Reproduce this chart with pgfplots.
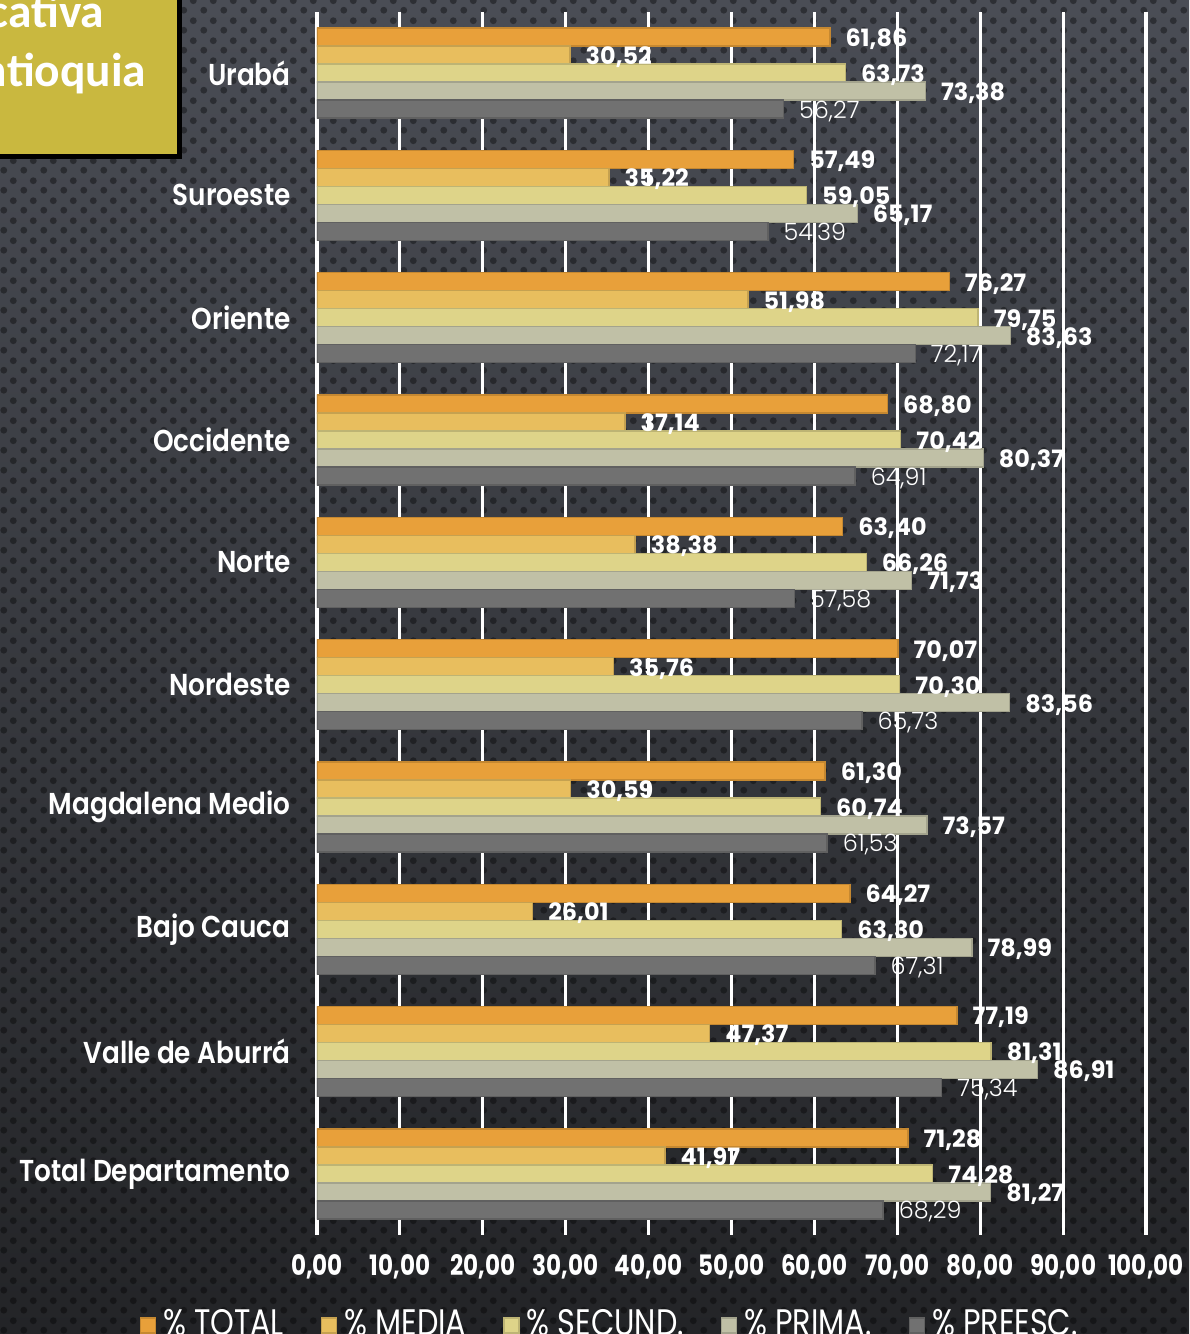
\documentclass[border=0pt]{standalone}
\usepackage{pgfplots}
\pgfplotsset{compat=1.18}
\usetikzlibrary{patterns.meta}
\usepackage{fontspec}
\setmainfont{Poppins}
\newfontfamily\condfont[FakeStretch=0.82]{Poppins}
\newfontfamily\semifont[FakeStretch=0.87]{Poppins SemiBold}
\newfontfamily\lightfont{Poppins Light}
\newfontfamily\boxfont{Carlito}

\definecolor{ctotal}{HTML}{E8A03A}
\definecolor{cmedia}{HTML}{E8BE5E}
\definecolor{csecund}{HTML}{DED489}
\definecolor{cprima}{HTML}{C0C0A6}
\definecolor{cpreesc}{HTML}{717171}
\definecolor{boxcol}{HTML}{C9B83F}
\definecolor{bgtop}{HTML}{4A4D55}
\definecolor{bgbot}{HTML}{232427}

\tikzdeclarepattern{name=bgdots, type=uncolored,
  bounding box={(0,0) and (2mm,2mm)}, tile size={(2mm,2mm)},
  code={\fill (0.5mm,0.5mm) circle (0.36mm); \fill (1.5mm,1.5mm) circle (0.36mm);}}

\pgfkeys{/pgf/number format/numfmt/.style={/pgf/number format/fixed,
    /pgf/number format/fixed zerofill, /pgf/number format/precision=2,
    /pgf/number format/use comma, /pgf/number format/assume math mode=true}}

\begin{document}
\begin{tikzpicture}[x=1mm,y=1mm]
\useasboundingbox (-31.7,-9.9) rectangle (87.2,123.5);
\clip (-31.7,-9.9) rectangle (87.2,123.5);
\shade[top color=bgtop, bottom color=bgbot] (-31.7,-9.9) rectangle (87.2,123.5);
\fill[pattern=bgdots, pattern color=black, opacity=0.38] (-31.7,-9.9) rectangle (87.2,123.5);
% title box (cut at the left edge)
\fill[black] (-31.7,107.6) rectangle (-13.5,123.5);
\fill[boxcol] (-31.7,108.1) rectangle (-14.0,123.5);
\node[anchor=base east, inner sep=0, text=white, font=\boxfont\bfseries\fontsize{13.5}{15}\selectfont] at (-21.2,120.7) {cativa};
\node[anchor=base east, inner sep=0, text=white, font=\boxfont\bfseries\fontsize{13.5}{15}\selectfont] at (-17.0,114.8) {ntioquia};

\begin{axis}[
    at={(0,0)}, anchor=south west,
    xbar, bar width=1.8mm,
    scale only axis, width=82.9mm, height=122.3mm,
    xmin=0, xmax=100, ymin=-0.5, ymax=9.5,
    xtick={0,10,...,100}, ytick={0,...,9},
    yticklabels={Total Departamento, Valle de Aburrá, Bajo Cauca, Magdalena Medio, Nordeste, Norte, Occidente, Oriente, Suroeste, Urabá},
    axis line style={draw=none},
    major tick length=0pt,
    xmajorgrids, grid style={white, line width=0.9pt},
    xticklabel style={/pgf/number format/numfmt, text=white, font=\condfont\bfseries\fontsize{8}{9}\selectfont, yshift=-0.7mm},
    yticklabel style={text=white, font=\semifont\fontsize{8.6}{10}\selectfont, xshift=-1.4mm},
    nodes near coords,
    every node near coord/.append style={/pgf/number format/numfmt, text=white, anchor=west, inner sep=0pt, xshift=1.5mm,
        yshift=-0.2mm, font=\bfseries\fontsize{6.8}{7}\selectfont},
    legend columns=5,
    legend style={at={(0.356,-0.074)}, anchor=center, draw=none, fill=none, text=white,
        font=\condfont\fontsize{10.5}{12}\selectfont,
        /tikz/every even column/.append style={column sep=3.0mm}},
    legend image code/.code={\fill[#1] (0mm,-0.75mm) rectangle (1.5mm,0.75mm);},
]
\addplot[fill=ctotal, draw=ctotal!85!black, bar shift=3.6mm] coordinates {
(71.28,0) (77.19,1) (64.27,2) (61.30,3) (70.07,4) (63.40,5) (68.80,6) (76.27,7) (57.49,8) (61.86,9)};
\addplot[fill=cmedia, draw=cmedia!85!black, bar shift=1.8mm] coordinates {
(41.97,0) (47.37,1) (26.01,2) (30.59,3) (35.76,4) (38.38,5) (37.14,6) (51.98,7) (35.22,8) (30.52,9)};
\addplot[fill=csecund, draw=csecund!85!black, bar shift=0mm] coordinates {
(74.28,0) (81.31,1) (63.30,2) (60.74,3) (70.30,4) (66.26,5) (70.42,6) (79.75,7) (59.05,8) (63.73,9)};
\addplot[fill=cprima, draw=cprima!85!black, bar shift=-1.8mm] coordinates {
(81.27,0) (86.91,1) (78.99,2) (73.57,3) (83.56,4) (71.73,5) (80.37,6) (83.63,7) (65.17,8) (73.38,9)};
\addplot[fill=cpreesc, draw=cpreesc!85!black, bar shift=-3.6mm,
    every node near coord/.append style={font=\lightfont\fontsize{6.8}{7}\selectfont}] coordinates {
(68.29,0) (75.34,1) (67.31,2) (61.53,3) (65.73,4) (57.58,5) (64.91,6) (72.17,7) (54.39,8) (56.27,9)};
\legend{\% TOTAL, \% MEDIA, \% SECUND., \% PRIMA., \% PREESC.}
\end{axis}
\end{tikzpicture}
\end{document}
